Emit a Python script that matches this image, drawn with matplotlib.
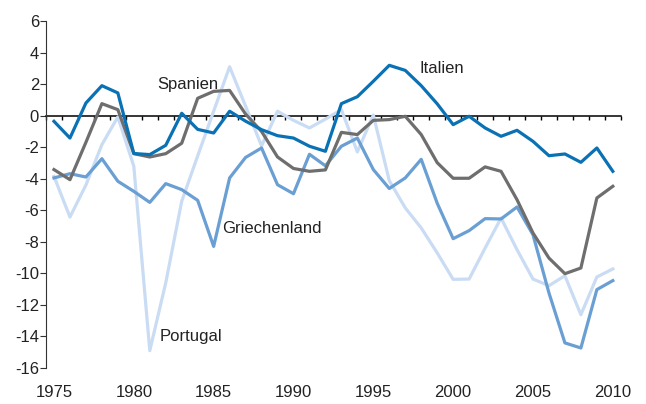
import numpy as np
import matplotlib.pyplot as plt

plt.rcParams['font.family'] = ['Liberation Sans', 'DejaVu Sans']
plt.rcParams['axes.unicode_minus'] = False

years = np.arange(1975, 2011)

italien = [-0.36, -1.42, 0.8, 1.9, 1.44, -2.4, -2.47, -1.88, 0.15, -0.87, -1.1, 0.28,
           -0.35, -0.89, -1.27, -1.42, -1.94, -2.26, 0.76, 1.2, 2.18, 3.19, 2.87, 1.9,
           0.75, -0.57, -0.04, -0.78, -1.31, -0.93, -1.63, -2.54, -2.43, -2.96, -2.05, -3.53]
spanien = [-3.42, -4.06, -1.69, 0.76, 0.38, -2.41, -2.62, -2.41, -1.75, 1.1, 1.54, 1.6,
           0.1, -1.0, -2.62, -3.35, -3.53, -3.44, -1.06, -1.2, -0.3, -0.25, -0.04, -1.2,
           -2.98, -3.97, -3.97, -3.25, -3.53, -5.33, -7.44, -9.03, -10.02, -9.66, -5.22, -4.48]
griechenland = [-3.95, -3.68, -3.89, -2.73, -4.16, -4.8, -5.5, -4.31, -4.69, -5.37, -8.29, -3.95,
                -2.65, -2.05, -4.38, -4.95, -2.45, -3.18, -1.94, -1.42, -3.42, -4.62, -3.95, -2.77,
                -5.55, -7.8, -7.29, -6.53, -6.55, -5.79, -7.55, -11.24, -14.41, -14.73, -11.03, -10.46]
portugal = [-3.85, -6.43, -4.4, -1.84, -0.08, -3.21, -14.9, -10.6, -5.43, -2.55, 0.28, 3.1,
            0.6, -1.92, 0.28, -0.3, -0.78, -0.22, 0.38, -2.3, 0.04, -4.12, -5.85, -7.12,
            -8.7, -10.38, -10.36, -8.4, -6.49, -8.5, -10.36, -10.78, -10.15, -12.62, -10.23, -9.72]

fig = plt.figure(figsize=(6.46, 4.04), dpi=100)
ax = fig.add_axes([0.0712, 0.0891, 0.8898, 0.8589])

ax.plot(years, portugal, color='#c9dcf3', lw=2.3, zorder=3)
ax.plot(years, griechenland, color='#6a9fd4', lw=2.3, zorder=4)
ax.plot(years, spanien, color='#6e6e6e', lw=2.3, zorder=5)
ax.plot(years, italien, color='#0a72b4', lw=2.3, zorder=6)

ax.set_xlim(1974.5, 2010.5)
ax.set_ylim(-16, 6)

# zero line with year boundary ticks
ax.spines['bottom'].set_position(('data', 0))
ax.spines['bottom'].set_linewidth(1.1)
ax.spines['bottom'].set_zorder(2)
ax.spines['top'].set_visible(False)
ax.spines['right'].set_visible(False)
ax.spines['left'].set_color('#333333')
ax.set_xticks(np.arange(1974.5, 2011, 1.0))
ax.set_xticklabels([])
ax.tick_params(axis='x', direction='out', length=3, width=1)

ax.set_yticks(np.arange(-16, 7, 2))
ax.tick_params(axis='y', length=4, width=0.8, color='#333333', labelsize=12,
               labelcolor='#222222', pad=1)

sec = ax.secondary_xaxis(0)
sec.set_xticks(np.arange(1975, 2011, 5))
sec.tick_params(length=0, labelsize=12, labelcolor='#222222', pad=12)
sec.spines['bottom'].set_visible(False)

ax.text(1997.9, 3.0, 'Italien', fontsize=12, color='#222222', va='center')
ax.text(1981.5, 1.97, 'Spanien', fontsize=12, color='#222222', va='center')
ax.text(1985.5, -7.17, 'Griechenland', fontsize=12, color='#222222', va='center')
ax.text(1981.6, -14.0, 'Portugal', fontsize=12, color='#222222', va='center')

fig.savefig('out.png', dpi=100)
